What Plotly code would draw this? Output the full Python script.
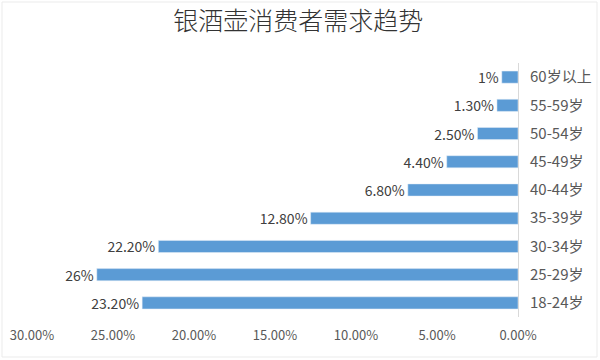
import plotly.graph_objects as go

categories = ["18-24岁", "25-29岁", "30-34岁", "35-39岁", "40-44岁", "45-49岁", "50-54岁", "55-59岁", "60岁以上"]
values = [23.2, 26.0, 22.2, 12.8, 6.8, 4.4, 2.5, 1.3, 1.0]
labels = ["23.20%", "26%", "22.20%", "12.80%", "6.80%", "4.40%", "2.50%", "1.30%", "1%"]
tick_vals = [0, 5, 10, 15, 20, 25, 30]
tick_text = ["0.00%", "5.00%", "10.00%", "15.00%", "20.00%", "25.00%", "30.00%"]

font_family = "Noto Sans CJK SC, Noto Sans, sans-serif"

fig = go.Figure(go.Bar(
    x=values, y=categories, orientation="h",
    marker=dict(color="#5B9BD5"),
    width=0.43,
    text=labels, textposition="outside", constraintext="none",
    textfont=dict(size=14, color="#404040", family=font_family),
    cliponaxis=False,
))

fig.update_layout(
    width=600, height=360,
    margin=dict(l=32, r=82, t=63, b=43, autoexpand=False),
    paper_bgcolor="white", plot_bgcolor="white",
    showlegend=False,
    title=dict(text="银酒壶消费者需求趋势", x=0.497, xanchor="center", y=0.94, yanchor="middle",
               font=dict(size=25, color="#333333", family=font_family, weight=300)),
    xaxis=dict(range=[30, 0], tickvals=tick_vals, ticktext=tick_text, automargin=False,
               showgrid=False, zeroline=False, showline=False, ticklabelstandoff=9,
               tickfont=dict(size=13, color="#595959", family=font_family), ticks=""),
    yaxis=dict(side="right", showgrid=False, zeroline=False, showline=True, automargin=False,
               linecolor="#D9D9D9", linewidth=1, ticks="", ticklabelstandoff=8,
               tickfont=dict(size=15, color="#595959", family=font_family)),
    shapes=[dict(type="rect", xref="paper", yref="paper",
                 x0=(2 - 32) / 486, x1=(597 - 32) / 486,
                 y0=(317 - 357) / 254, y1=1 + (63 - 2) / 254,
                 line=dict(color="#EBEBEB", width=1))],
)

fig.write_html("out.html", config={"displayModeBar": False},
               post_script="document.body.style.margin='0';")
